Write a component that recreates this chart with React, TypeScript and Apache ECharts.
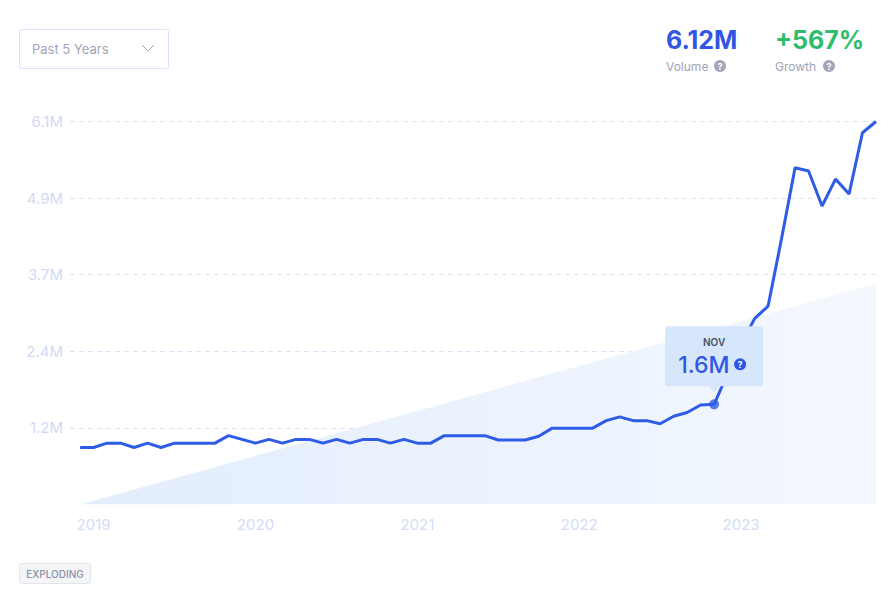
import React, { useEffect, useRef } from "react";
import * as echarts from "echarts";

// Monthly categories, Dec 2018 .. Nov 2023
const months: string[] = [
  "2018-12",
  "2019-01", "2019-02", "2019-03", "2019-04", "2019-05", "2019-06", "2019-07", "2019-08", "2019-09", "2019-10", "2019-11", "2019-12",
  "2020-01", "2020-02", "2020-03", "2020-04", "2020-05", "2020-06", "2020-07", "2020-08", "2020-09", "2020-10", "2020-11", "2020-12",
  "2021-01", "2021-02", "2021-03", "2021-04", "2021-05", "2021-06", "2021-07", "2021-08", "2021-09", "2021-10", "2021-11", "2021-12",
  "2022-01", "2022-02", "2022-03", "2022-04", "2022-05", "2022-06", "2022-07", "2022-08", "2022-09", "2022-10", "2022-11", "2022-12",
  "2023-01", "2023-02", "2023-03", "2023-04", "2023-05", "2023-06", "2023-07", "2023-08", "2023-09", "2023-10", "2023-11",
];

// Search volume, millions
const volume: number[] = [
  0.91,
  0.91, 0.98, 0.98, 0.91, 0.98, 0.91, 0.98, 0.98, 0.98, 0.98, 1.10, 1.04,
  0.98, 1.04, 0.98, 1.04, 1.04, 0.98, 1.04, 0.98, 1.04, 1.04, 0.98, 1.04,
  0.98, 0.98, 1.10, 1.10, 1.10, 1.10, 1.03, 1.03, 1.03, 1.09, 1.22, 1.22,
  1.22, 1.22, 1.34, 1.40, 1.34, 1.34, 1.29, 1.41, 1.47, 1.59, 1.60, 2.09,
  2.56, 2.97, 3.17, 4.25, 5.38, 5.33, 4.77, 5.20, 4.96, 5.94, 6.12,
];

// Trend wedge (start / end values, millions)
const trendStart = 0;
const trendEnd = 3.53;

// Year tick positions (January of each year)
const yearTickIndex: number[] = [1, 13, 25, 37, 49];

// Y axis
const yMax = 6.12;
const yInterval = 1.224;

// Highlighted point
const highlightIndex = 47;
const highlightLabel = "NOV";
const highlightValueText = "1.6M";

// Header stats
const volumeText = "6.12M";
const growthText = "+567%";

const FONT = "Inter, 'Noto Sans', sans-serif";
const BLUE = "#2f5ce7";

export default function App() {
  const ref = useRef<HTMLDivElement>(null);

  useEffect(() => {
    document.body.style.margin = "0";
    const chart = echarts.init(ref.current!, undefined, { renderer: "svg" });

    const lineData = volume.map((v, i) => [i, v]);
    const trendData = [
      [0, trendStart],
      [volume.length - 1, trendEnd],
    ];

    const helpIcon = (cx: number, cy: number, fill: string, z = 0) => ({
      type: "group",
      z,
      children: [
        { type: "circle", z, shape: { cx, cy, r: 6 }, style: { fill } },
        {
          type: "text",
          z: z + 1,
          x: cx,
          y: cy + 0.5,
          style: {
            text: "?",
            fill: "#ffffff",
            font: `700 9px ${FONT}`,
            align: "center",
            verticalAlign: "middle",
          },
        },
      ],
    });

    const staticGraphics: any[] = [
      // dropdown
      {
        type: "rect",
        shape: { x: 19.5, y: 29.5, width: 149, height: 39, r: 2 },
        style: { fill: "#ffffff", stroke: "#d8e4fa", lineWidth: 1 },
      },
      {
        type: "text",
        x: 32,
        y: 48.5,
        style: {
          text: "Past 5 Years",
          fill: "#a3a7b8",
          font: `400 13px ${FONT}`,
          verticalAlign: "middle",
        },
      },
      {
        type: "polyline",
        shape: { points: [[142, 45], [148, 51], [154, 45]] },
        style: { stroke: "#9da2b3", lineWidth: 1, fill: "none" },
      },
      // volume stat
      {
        type: "text",
        x: 666,
        y: 40,
        style: {
          text: volumeText,
          fill: "#3156e3",
          font: `700 25px ${FONT}`,
          verticalAlign: "middle",
        },
      },
      {
        type: "text",
        x: 666,
        y: 66,
        style: {
          text: "Volume",
          fill: "#9ea3b6",
          font: `400 12px ${FONT}`,
          verticalAlign: "middle",
        },
      },
      helpIcon(720, 66, "#a3a6b7"),
      // growth stat
      {
        type: "text",
        x: 775,
        y: 40,
        style: {
          text: growthText,
          fill: "#2fbd6c",
          font: `700 25px ${FONT}`,
          verticalAlign: "middle",
        },
      },
      {
        type: "text",
        x: 775,
        y: 66,
        style: {
          text: "Growth",
          fill: "#9ea3b6",
          font: `400 12px ${FONT}`,
          verticalAlign: "middle",
        },
      },
      helpIcon(829, 66, "#a3a6b7"),
      // badge
      {
        type: "rect",
        shape: { x: 19.5, y: 563.5, width: 71, height: 20, r: 2 },
        style: { fill: "#f4f5f7", stroke: "#e3e5ea", lineWidth: 1 },
      },
      {
        type: "text",
        x: 55,
        y: 574,
        style: {
          text: "EXPLODING",
          fill: "#8b91a7",
          font: `500 10px ${FONT}`,
          align: "center",
          verticalAlign: "middle",
        },
      },
    ];

    chart.setOption({
      animation: false,
      backgroundColor: "#ffffff",
      grid: { left: 70, right: 18, top: 121.5, bottom: 106.5 },
      xAxis: {
        type: "value",
        min: -0.75,
        max: volume.length - 1,
        axisLine: { show: false },
        axisTick: { show: false },
        splitLine: { show: false },
        axisLabel: {
          customValues: yearTickIndex,
          formatter: (v: number) => months[Math.round(v)].slice(0, 4),
          color: "#d3dcf5",
          fontFamily: FONT,
          fontSize: 15,
          margin: 12,
        },
      },
      yAxis: {
        type: "value",
        min: 0,
        max: yMax,
        interval: yInterval,
        axisLine: { show: false },
        axisTick: { show: false },
        axisLabel: {
          showMinLabel: false,
          formatter: (v: number) => (v === 0 ? "" : v.toFixed(1) + "M"),
          color: "#d0daf4",
          fontFamily: FONT,
          fontSize: 15,
          margin: 7,
        },
        splitLine: {
          showMinLine: false,
          lineStyle: { color: "#dae4f8", type: [5, 4], width: 1 },
        },
      },
      series: [
        {
          type: "line",
          data: trendData,
          symbol: "none",
          lineStyle: { width: 0, opacity: 0 },
          areaStyle: {
            opacity: 1,
            color: new echarts.graphic.LinearGradient(0, 0, 1, 0, [
              { offset: 0, color: "#e2edfc" },
              { offset: 1, color: "#f4f8fe" },
            ]),
          },
          z: 1,
          silent: true,
        },
        {
          type: "line",
          data: lineData,
          symbol: "none",
          lineStyle: { color: BLUE, width: 3 },
          z: 3,
        },
        {
          type: "scatter",
          data: [[highlightIndex, volume[highlightIndex]]],
          symbol: "circle",
          symbolSize: 10,
          itemStyle: { color: BLUE },
          z: 5,
        },
      ],
      graphic: staticGraphics,
    });

    const [px, py] = chart.convertToPixel({ gridIndex: 0 }, [
      highlightIndex,
      volume[highlightIndex],
    ]) as number[];

    const TZ = 100;
    const tip: any = {
      type: "group",
      z: TZ,
      children: [
        {
          type: "rect",
          z: TZ,
          shape: { x: px - 49, y: py - 78, width: 98, height: 60, r: 2 },
          style: { fill: "#d6e7fb" },
        },
        {
          type: "polygon",
          z: TZ,
          shape: {
            points: [
              [px - 6, py - 18],
              [px + 6, py - 18],
              [px, py - 12],
            ],
          },
          style: { fill: "#d6e7fb" },
        },
        {
          type: "text",
          z: TZ + 1,
          x: px,
          y: py - 62,
          style: {
            text: highlightLabel,
            fill: "#4a4f63",
            font: `600 10px ${FONT}`,
            align: "center",
            verticalAlign: "middle",
          },
        },
        {
          type: "text",
          z: TZ + 1,
          x: px - 36,
          y: py - 39,
          style: {
            text: highlightValueText,
            fill: "#3156e3",
            font: `500 23px ${FONT}`,
            verticalAlign: "middle",
          },
        },
        helpIcon(px + 26, py - 40, "#3156e3", TZ + 1),
      ],
    };

    chart.setOption({ graphic: [...staticGraphics, tip] });

    return () => chart.dispose();
  }, []);

  return (
    <div
      ref={ref}
      style={{ position: "fixed", left: 0, top: 0, width: 894, height: 611 }}
    />
  );
}
